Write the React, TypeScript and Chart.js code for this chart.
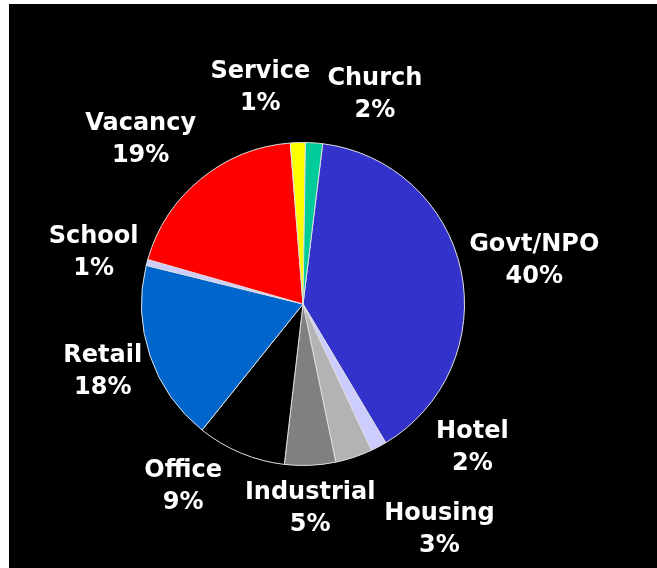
import React, { useEffect, useRef } from "react";
import { Chart, registerables } from "chart.js";

Chart.register(...registerables);

const categories = ["Govt/NPO", "Hotel", "Housing", "Industrial", "Office", "Retail", "School", "Vacancy", "Service", "Church"];
const shares = [39.5, 1.6, 3.7, 5.1, 8.9, 18.1, 0.6, 19.3, 1.5, 1.7];
const percentLabels = ["40%", "2%", "3%", "5%", "9%", "18%", "1%", "19%", "1%", "2%"];
const sliceColors = ["#3333cc", "#ccccff", "#b3b3b3", "#808080", "#000000", "#0066cc", "#ccccff", "#ff0000", "#ffff00", "#00cc99"];

// label placement: angle (deg clockwise from top) and distance as multiple of the pie radius
const labelAngles = [79.3, 130.4, 148.9, 178.0, 213.3, 251.2, 283.8, 315.4, 348.8, 19.0];
const labelDistances = [1.457, 1.377, 1.636, 1.269, 1.351, 1.31, 1.335, 1.432, 1.362, 1.367];

const labelPlugin = {
  id: "outerLabels",
  afterDraw(chart: any) {
    const meta = chart.getDatasetMeta(0);
    const arc = meta.data[0];
    if (!arc) return;
    const cx = arc.x;
    const cy = arc.y;
    const r = arc.outerRadius;
    const ctx = chart.ctx;
    ctx.save();
    ctx.fillStyle = "#ffffff";
    ctx.font = "bold 24px Tahoma, 'DejaVu Sans', sans-serif";
    ctx.textAlign = "center";
    ctx.textBaseline = "middle";
    categories.forEach((name, i) => {
      const a = (labelAngles[i] * Math.PI) / 180;
      const d = labelDistances[i] * r;
      const x = cx + Math.sin(a) * d;
      const y = cy - Math.cos(a) * d;
      ctx.fillText(name, x, y - 16);
      ctx.fillText(percentLabels[i], x, y + 16);
    });
    ctx.restore();
  },
};

export default function App() {
  const ref = useRef<HTMLCanvasElement>(null);
  useEffect(() => {
    if (!ref.current) return;
    const chart = new Chart(ref.current, {
      type: "pie",
      data: {
        labels: categories,
        datasets: [
          {
            data: shares,
            backgroundColor: sliceColors,
            borderColor: "#e0e0e0",
            borderWidth: 1,
          },
        ],
      },
      options: {
        responsive: false,
        animation: false,
        rotation: 7,
        layout: { padding: { left: 132, right: 192, top: 138, bottom: 102 } },
        plugins: { legend: { display: false }, tooltip: { enabled: false } },
      },
      plugins: [labelPlugin],
    });
    return () => chart.destroy();
  }, []);
  return (
    <div style={{ position: "absolute", left: 9, top: 4, width: 648, height: 564, background: "#000" }}>
      <canvas ref={ref} width={648} height={564} style={{ display: "block" }} />
    </div>
  );
}
